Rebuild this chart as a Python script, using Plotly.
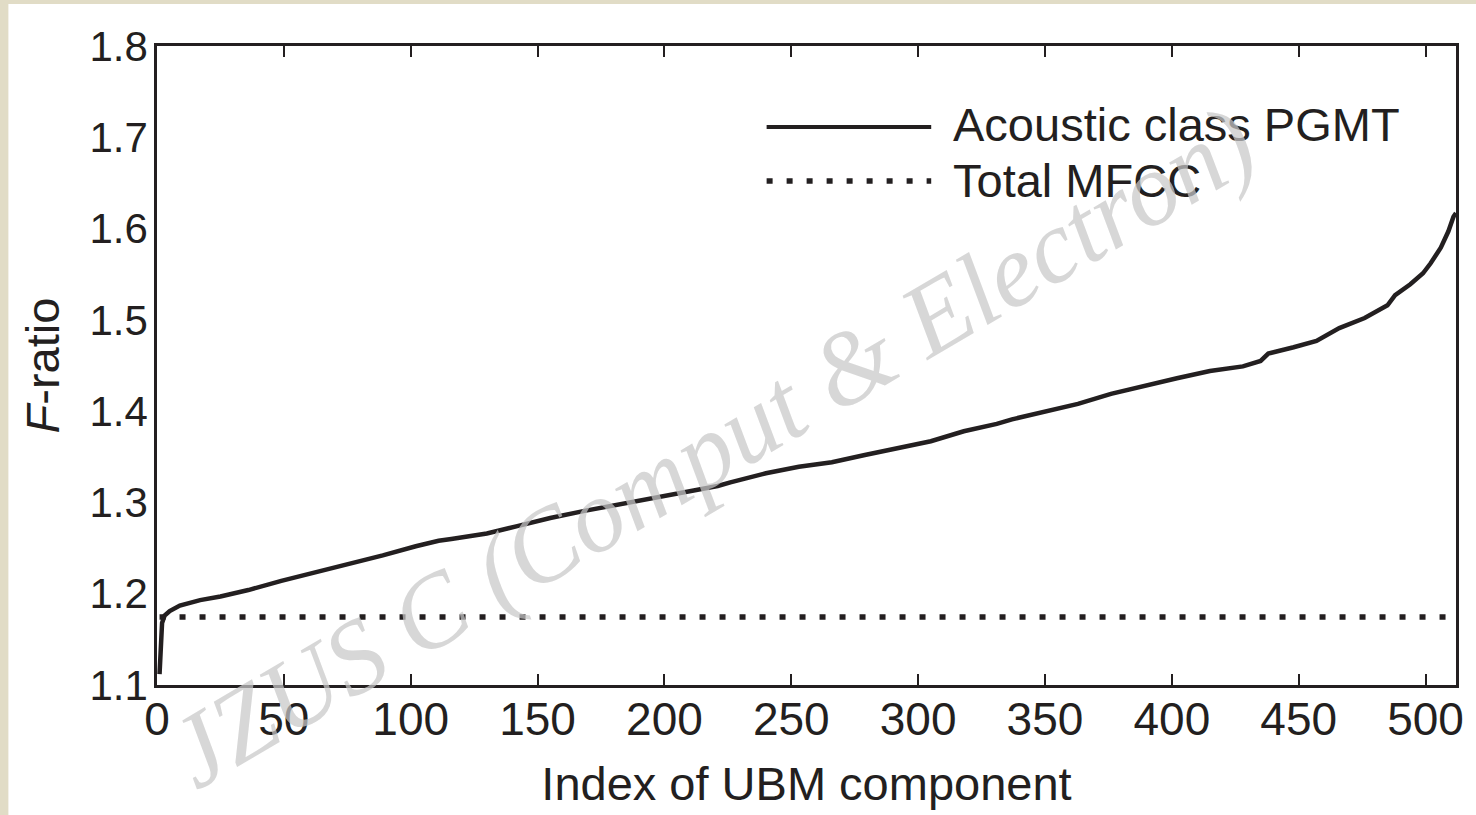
import plotly.graph_objects as go

# ---- data ----
ubm_index = [1, 2, 3, 5, 9, 17, 25, 36, 49, 62, 76, 89, 102, 111, 116, 130, 142, 155, 169,
             182, 195, 208, 221, 226, 240, 253, 266, 279, 292, 305, 318, 331, 337, 350, 363,
             376, 389, 402, 415, 428, 435, 438, 448, 457, 466, 476, 485, 488, 494, 499, 502,
             506, 509, 511, 512]
pgmt_fratio = [1.112, 1.168, 1.176, 1.181, 1.187, 1.193, 1.197, 1.204, 1.214, 1.223, 1.233,
               1.242, 1.252, 1.258, 1.260, 1.266, 1.274, 1.283, 1.291, 1.298, 1.305, 1.311,
               1.318, 1.322, 1.332, 1.339, 1.344, 1.352, 1.360, 1.367, 1.378, 1.386, 1.391,
               1.400, 1.408, 1.419, 1.428, 1.436, 1.444, 1.449, 1.455, 1.463, 1.470, 1.477,
               1.491, 1.502, 1.516, 1.527, 1.539, 1.551, 1.562, 1.579, 1.597, 1.613, 1.617]
mfcc_index = [1, 512]
mfcc_fratio = [1.1745, 1.1745]

x_ticks = [0, 50, 100, 150, 200, 250, 300, 350, 400, 450, 500]
y_ticks = [1.1, 1.2, 1.3, 1.4, 1.5, 1.6, 1.7, 1.8]
series_names = ["Acoustic class PGMT", "Total MFCC"]

INK = "#231f20"
FONT = "Liberation Sans, Arial, sans-serif"

fig = go.Figure()
fig.add_trace(go.Scatter(x=ubm_index, y=pgmt_fratio, mode="lines", name=series_names[0],
                         line=dict(color=INK, width=4.5), showlegend=False, hoverinfo="skip"))
fig.add_trace(go.Scatter(x=mfcc_index, y=mfcc_fratio, mode="lines", name=series_names[1],
                         line=dict(color=INK, width=5.5, dash="6px,14px"), showlegend=False,
                         hoverinfo="skip"))

# legend drawn manually (long sample lines as in the reference)
fig.add_shape(type="line", xref="paper", yref="paper", x0=0.4693, x1=0.596, y0=0.8732, y1=0.8732,
              line=dict(color=INK, width=4))
fig.add_shape(type="line", xref="paper", yref="paper", x0=0.4693, x1=0.596, y0=0.7887, y1=0.7887,
              line=dict(color=INK, width=5.5, dash="6px,14px"))
fig.add_annotation(xref="paper", yref="paper", x=0.6114, y=0.8764, text=series_names[0],
                   showarrow=False, xanchor="left", yanchor="middle",
                   font=dict(family=FONT, size=47, color=INK))
fig.add_annotation(xref="paper", yref="paper", x=0.6114, y=0.790, text=series_names[1],
                   showarrow=False, xanchor="left", yanchor="middle",
                   font=dict(family=FONT, size=47, color=INK))

# watermark
fig.add_annotation(xref="paper", yref="paper", x=0.427, y=0.372,
                   text="<i>JZUS C (Comput &amp; Electron)</i>", showarrow=False,
                   textangle=-30.5, xanchor="center", yanchor="middle",
                   font=dict(family="Liberation Serif, Times New Roman, serif", size=104,
                             color="rgba(200,200,200,0.72)"))

# beige frame strips (left and top)
fig.add_shape(type="rect", xref="paper", yref="paper", x0=-0.2, x1=-0.1144, y0=-0.3, y1=1.2,
              fillcolor="#e1dcc6", line=dict(width=0), layer="below")
fig.add_shape(type="rect", xref="paper", yref="paper", x0=-0.2, x1=1.2, y0=1.0657, y1=1.2,
              fillcolor="#e1dcc6", line=dict(width=0), layer="below")

fig.update_layout(
    width=1476, height=815,
    margin=dict(l=157, r=17, t=46, b=130),
    paper_bgcolor="white", plot_bgcolor="white",
    font=dict(family=FONT, color=INK, size=44),
)
fig.update_xaxes(
    range=[0, 512], tickvals=x_ticks, ticktext=[str(v) for v in x_ticks],
    showgrid=False, zeroline=False,
    showline=True, linecolor=INK, linewidth=2.5, mirror="ticks",
    ticks="inside", ticklen=11, tickwidth=2, tickcolor=INK,
    ticklabelstandoff=-8,
    tickfont=dict(family=FONT, size=46, color=INK),
    title=dict(text="Index of UBM component", font=dict(family=FONT, size=47, color=INK),
               standoff=24),
)
fig.update_yaxes(
    range=[1.1, 1.8], tickvals=y_ticks, ticktext=[f"{v:.1f}" for v in y_ticks],
    showgrid=False, zeroline=False,
    showline=True, linecolor=INK, linewidth=2.5, mirror=True,
    ticks="", ticklabelstandoff=-2,
    tickfont=dict(family=FONT, size=42, color=INK),
    title=dict(text="<i>F</i>-ratio", font=dict(family=FONT, size=47, color=INK), standoff=16),
)

fig.write_html(
    "out.html",
    config={"displayModeBar": False},
    post_script=("document.body.style.margin='0px';"
                 "document.body.style.overflow='hidden';"
                 "document.documentElement.style.overflow='hidden';"),
)
